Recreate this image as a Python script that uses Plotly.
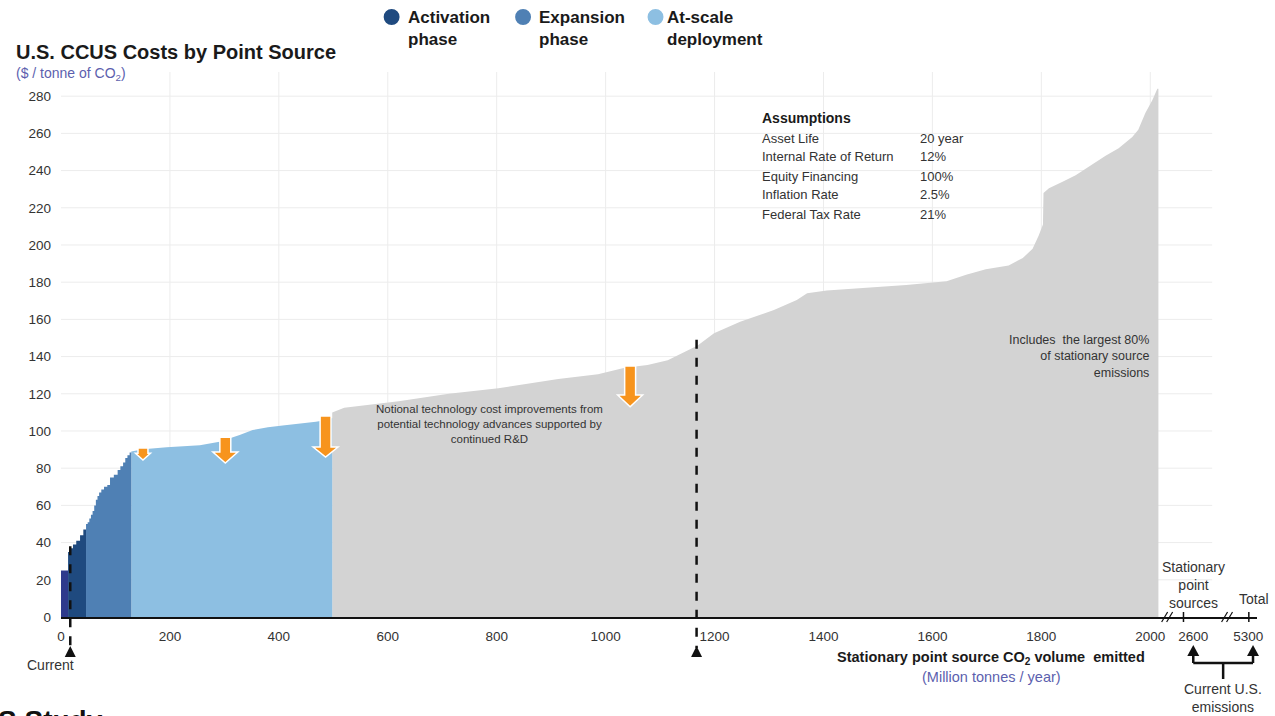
import plotly.graph_objects as go

# ---------------- data ----------------
# Cumulative stationary-source CO2 volume (Mt/yr) where each step starts,
# and the capture cost ($/tonne) of that step.  Last volume closes the segment.
current_vol = [0, 13]
current_cost = [25, 25]

activation_vol = [13, 17, 22, 28, 35, 41, 46]
activation_cost = [35, 37, 39, 41, 44, 47, 47]

expansion_vol = [46, 49, 52, 55, 58, 61, 64, 67, 70, 74, 79, 85, 90, 97, 104, 109, 114, 118, 122, 126, 129]
expansion_cost = [50, 51, 53, 55, 57, 60, 63, 65, 67, 68.5, 70, 71, 75, 76.5, 79, 81, 83, 85.5, 87, 88.5, 88.5]

atscale_vol = [129, 140, 151, 194, 255, 291, 310, 328, 352, 380, 407, 440, 468, 490, 498]
atscale_cost = [89, 89.8, 90.2, 91.2, 92.4, 94.2, 96, 97.8, 100.5, 102, 103, 104, 105, 106, 107]

remaining_vol = [498, 520, 547, 620, 712, 803, 913, 986, 1035, 1077, 1114, 1145, 1169, 1199,
                 1247, 1309, 1351, 1370, 1406, 1479, 1552, 1626, 1662, 1698, 1740, 1766, 1784,
                 1795, 1803, 1804, 1814, 1839, 1863, 1887, 1918, 1942, 1967, 1978, 1991, 2004,
                 2013, 2015]
remaining_cost = [110, 112.5, 113.5, 116, 120, 123, 128, 130.5, 134, 135.5, 138, 142.5, 146, 152.5,
                  158.7, 165, 170.4, 174, 175.5, 177, 178.5, 180.5, 184, 187, 189, 193, 198,
                  205, 211, 228, 230.5, 234, 237.5, 242, 248, 252, 258, 262, 271, 278,
                  284, 284]

# markers for "Current" deployment and the 80% cut-off
marker_vol = [17, 1167]
marker_top_cost = [38, 149]
marker_labels = ["Current", ""]

# cost-reduction arrows: volume, top cost, head-start cost, tip cost
arrow_vol = [150.5, 301.7, 485.8, 1045]
arrow_top = [90.8, 96.7, 108, 134.9]
arrow_head = [88, 88.7, 91.4, 119.3]
arrow_tip = [84.4, 82.8, 86, 113]

y_ticks = list(range(0, 281, 20))
x_ticks = list(range(0, 2001, 200))
extra_tick_pos = [2079, 2180]
extra_tick_text = ["2600", "5300"]
break_pos = [2031, 2141]
extra_mark_pos = [2061, 2181]

assumption_labels = ["Asset Life", "Internal Rate of Return", "Equity Financing", "Inflation Rate", "Federal Tax Rate"]
assumption_values = ["20 year", "12%", "100%", "2.5%", "21%"]

# ---------------- layout geometry ----------------
FW, FH = 1275, 716
L, R, T, B = 61, 13, 72, 99
W, H = FW - L - R, FH - T - B
XMAX, YMAX = 2196, 293
FONT = "Liberation Sans, Arial, sans-serif"

def fx(px):
    return (px - L) / W

def fy(py):
    return (FH - B - py) / H

def xw(px):
    """pixel width -> x data units"""
    return px / W * XMAX

NAVY = "#2e3a8c"
ACT = "#1f4a7f"
EXP = "#4f80b4"
SCALE = "#8dbfe2"
GREY = "#d3d3d3"
ORANGE = "#f7941d"
PURPLE = "#5c5fae"

fig = go.Figure()

def area(x, y, color, shape):
    fig.add_trace(go.Scatter(x=x, y=y, mode="lines", line=dict(width=0, shape=shape),
                             fill="tozeroy", fillcolor=color, hoverinfo="skip", showlegend=False))

area(remaining_vol, remaining_cost, GREY, "linear")
area(atscale_vol, atscale_cost, SCALE, "linear")
area(expansion_vol, expansion_cost, EXP, "hv")
area(activation_vol, activation_cost, ACT, "hv")
area(current_vol, current_cost, NAVY, "hv")

shapes = []
# light grid behind the curve
for yv in y_ticks[1:]:
    shapes.append(dict(type="line", xref="x", yref="y", x0=0, x1=xw(1217 - L), y0=yv, y1=yv,
                       line=dict(color="#ececec", width=1), layer="below"))
for xv in x_ticks[1:]:
    shapes.append(dict(type="line", xref="x", yref="paper", x0=xv, x1=xv, y0=0, y1=1.0,
                       line=dict(color="#ececec", width=1), layer="below"))

# dashed markers with triangles under the axis
for v, c in zip(marker_vol, marker_top_cost):
    shapes.append(dict(type="line", xref="x", yref="paper", x0=v, x1=v, y0=c / YMAX, y1=fy(648),
                       line=dict(color="#111111", width=2.5, dash="dash")))
    hw = xw(5.5)
    shapes.append(dict(type="path", xref="x", yref="paper",
                       path=f"M {v - hw},{fy(657)} L {v + hw},{fy(657)} L {v},{fy(646)} Z",
                       fillcolor="#111111", line=dict(width=0)))

# orange block arrows
for v, top, head, tip in zip(arrow_vol, arrow_top, arrow_head, arrow_tip):
    small = (top - tip) < 10
    sw = xw(5 if small else 5.5)
    hw = xw(7.5 if small else 12.5)
    path = (f"M {v - sw},{top} L {v + sw},{top} L {v + sw},{head} L {v + hw},{head} "
            f"L {v},{tip} L {v - hw},{head} L {v - sw},{head} Z")
    shapes.append(dict(type="path", xref="x", yref="y", path=path, fillcolor=ORANGE,
                       line=dict(color="white", width=1.5)))

# axis breaks and the extra ticks on the right
for v in break_pos:
    for off in (-2.5, 2.5):
        shapes.append(dict(type="line", xref="x", yref="paper",
                           x0=v + xw(off - 3), x1=v + xw(off + 3), y0=fy(622), y1=fy(612),
                           line=dict(color="#111111", width=1.2)))
for v in extra_mark_pos:
    shapes.append(dict(type="line", xref="x", yref="paper", x0=v, x1=v, y0=fy(622), y1=fy(612),
                       line=dict(color="#111111", width=1.5)))

# bracket pointing to the two totals
BK = dict(color="#111111", width=2.5)
for px in (1198, 1258):
    shapes.append(dict(type="line", xref="paper", yref="paper", x0=fx(px), x1=fx(px),
                       y0=fy(663), y1=fy(654), line=BK))
    shapes.append(dict(type="path", xref="paper", yref="paper",
                       path=f"M {fx(px - 6)},{fy(656)} L {fx(px + 6)},{fy(656)} L {fx(px)},{fy(645)} Z",
                       fillcolor="#111111", line=dict(width=0)))
shapes.append(dict(type="line", xref="paper", yref="paper", x0=fx(1198), x1=fx(1258),
                   y0=fy(663), y1=fy(663), line=BK))
shapes.append(dict(type="line", xref="paper", yref="paper", x0=fx(1228), x1=fx(1228),
                   y0=fy(663), y1=fy(679), line=BK))

# legend dots
for px, col in zip((393, 525, 658), (ACT, EXP, SCALE)):
    shapes.append(dict(type="circle", xref="paper", yref="paper",
                       x0=fx(px - 8), x1=fx(px + 8), y0=fy(25), y1=fy(9),
                       fillcolor=col, line=dict(width=0)))

ann = []

def text(px, py, s, size, color="#222222", xanchor="left", yanchor="middle", align="left"):
    ann.append(dict(xref="paper", yref="paper", x=fx(px), y=fy(py), text=s, showarrow=False,
                    xanchor=xanchor, yanchor=yanchor, align=align,
                    font=dict(family=FONT, size=size, color=color)))

text(14, 52, "<b>U.S. CCUS Costs by Point Source</b>", 20, "#1a1a1a")
text(14, 74, "($ / tonne of CO<sub>2</sub>)", 14, PURPLE)

for px, s in zip((407, 539, 668), ("Activation<br>phase", "Expansion<br>phase", "At-scale<br>deployment")):
    text(px, 28, f"<b>{s}</b>", 17, "#1a1a1a")

text(763, 118, "<b>Assumptions</b>", 14, "#1a1a1a")
for i, (lab, val) in enumerate(zip(assumption_labels, assumption_values)):
    text(763, 138 + 19 * i, lab, 13, "#333333")
    text(922, 138 + 19 * i, val, 13, "#333333")

text(491, 424, "Notional technology cost improvements from<br>potential technology advances supported by<br>continued R&D",
     11.5, "#333333", xanchor="center", align="center")
text(1156, 356, "Includes  the largest 80%<br>of stationary source<br>emissions", 12.5, "#333333",
     xanchor="right", align="right")

for v, lab in zip(marker_vol, marker_labels):
    if lab:
        text(50, 665, lab, 14, "#333333", xanchor="center")

text(995, 658, "<b>Stationary point source CO<sub>2</sub> volume  emitted</b>", 14.5, "#1a1a1a", xanchor="center")
text(995, 677, "(Million tonnes / year)", 14.5, PURPLE, xanchor="center")

text(1198, 585, "Stationary<br>point<br>sources", 14, "#333333", xanchor="center", align="center")
text(1259, 599, "Total", 14, "#333333", xanchor="center")
text(1228, 698, "Current U.S.<br>emissions", 14, "#333333", xanchor="center", align="center")

text(-4, 703, "<b>S Study</b>", 28, "#111111", yanchor="top")

fig.update_layout(
    width=FW, height=FH,
    margin=dict(l=L, r=R, t=T, b=B, pad=0),
    paper_bgcolor="white", plot_bgcolor="white",
    showlegend=False,
    shapes=shapes, annotations=ann,
    xaxis=dict(range=[0, XMAX], tickvals=x_ticks + extra_tick_pos,
               ticktext=[str(v) for v in x_ticks] + extra_tick_text,
               showgrid=False, zeroline=False, showline=True, linecolor="#111111", linewidth=2,
               ticks="", ticklabelstandoff=6,
               tickfont=dict(family=FONT, size=13.5, color="#333333"), fixedrange=True),
    yaxis=dict(range=[0, YMAX], tickvals=y_ticks, showgrid=False, zeroline=False, showline=False,
               ticks="", ticklabelstandoff=9,
               tickfont=dict(family=FONT, size=13.5, color="#333333"), fixedrange=True),
)

fig.write_html("out.html")
